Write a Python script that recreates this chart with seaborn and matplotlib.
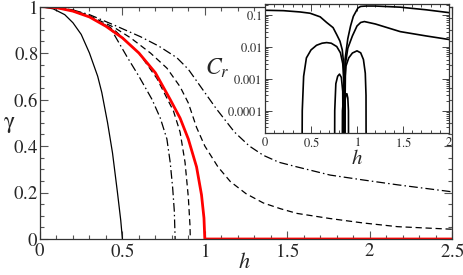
import matplotlib
matplotlib.use("Agg")
import matplotlib.pyplot as plt
import matplotlib.ticker as mticker
import seaborn as sns
import pandas as pd

# ---------------- main panel data (gamma vs h) ----------------
h_solid = [0, 0.08, 0.15, 0.2, 0.25, 0.3, 0.35, 0.375, 0.41, 0.44, 0.47, 0.49, 0.5]
g_solid = [1, 0.99, 0.965, 0.93, 0.88, 0.8, 0.7, 0.63, 0.5, 0.37, 0.2, 0.08, 0]

h_dd_in = [0, 0.1, 0.2, 0.3, 0.425, 0.527, 0.6, 0.68, 0.73, 0.77, 0.79, 0.805, 0.815, 0.82]
g_dd_in = [1, 0.995, 0.98, 0.955, 0.91, 0.785, 0.7, 0.6, 0.52, 0.43, 0.33, 0.22, 0.12, 0]

h_da_in = [0, 0.1, 0.2, 0.3, 0.45, 0.6, 0.71, 0.81, 0.85, 0.88, 0.9, 0.91, 0.912]
g_da_in = [1, 0.995, 0.98, 0.955, 0.9, 0.8, 0.69, 0.55, 0.46, 0.33, 0.18, 0.06, 0]

h_red = [0, 0.1, 0.2, 0.3, 0.4, 0.5, 0.6, 0.7, 0.79, 0.85, 0.9, 0.95, 0.98, 0.995, 1.0, 2.5]
g_red = [1, 0.995, 0.98, 0.955, 0.915, 0.865, 0.8, 0.715, 0.6, 0.52, 0.43, 0.31, 0.19, 0.09, 0, 0]

h_da_out = [0, 0.1, 0.2, 0.3, 0.45, 0.55, 0.67, 0.77, 0.85, 0.9, 0.95, 1.0, 1.08, 1.155,
            1.25, 1.355, 1.46, 1.56, 1.76, 1.96, 2.17, 2.5]
g_da_out = [1, 0.997, 0.985, 0.96, 0.91, 0.865, 0.80, 0.735, 0.655, 0.585, 0.48, 0.40, 0.31, 0.247,
            0.195, 0.155, 0.13, 0.11, 0.088, 0.069, 0.053, 0.042]

h_dd_out = [0, 0.1, 0.2, 0.3, 0.45, 0.61, 0.72, 0.83, 0.9, 0.97, 1.07, 1.18, 1.27, 1.355,
            1.45, 1.56, 1.76, 1.96, 2.17, 2.5]
g_dd_out = [1, 0.997, 0.985, 0.965, 0.92, 0.87, 0.83, 0.78, 0.73, 0.66, 0.56, 0.46, 0.40, 0.36,
            0.33, 0.31, 0.275, 0.254, 0.233, 0.203]

main_xticks = [0, 0.5, 1, 1.5, 2, 2.5]
main_yticks = [0, 0.2, 0.4, 0.6, 0.8, 1]

# ---------------- inset data (C_r vs h, log) ----------------
h_c1a = [0, 0.2, 0.38, 0.49, 0.6, 0.67, 0.74, 0.78, 0.815, 0.84, 0.855, 0.862]
c_c1a = [0.14, 0.136, 0.124, 0.113, 0.087, 0.058, 0.04, 0.024, 0.015, 0.008, 0.003, 1e-6]

h_c1b = [0.862, 0.87, 0.9, 0.93, 0.96, 0.98, 1.01, 1.04, 1.1, 1.2, 1.47, 1.75, 2.0]
c_c1b = [1e-6, 0.004, 0.018, 0.045, 0.09, 0.115, 0.165, 0.185, 0.19, 0.19, 0.175, 0.145, 0.118]

h_c2b = [0.862, 0.875, 0.9, 0.95, 1.0, 1.04, 1.08, 1.2, 1.47, 1.75, 2.0]
c_c2b = [1e-6, 0.003, 0.009, 0.022, 0.045, 0.058, 0.062, 0.052, 0.03, 0.022, 0.017]

h_archA = [0.40, 0.405, 0.42, 0.45, 0.5, 0.56, 0.62, 0.67, 0.72, 0.78, 0.82, 0.845, 0.858, 0.862]
c_archA = [1e-7, 1e-4, 0.0012, 0.0045, 0.008, 0.0112, 0.013, 0.0136, 0.013, 0.0102, 0.0065, 0.003, 0.0008, 1e-7]

h_archB = [0.862, 0.866, 0.88, 0.91, 0.95, 1.0, 1.04, 1.07, 1.09, 1.098, 1.10]
c_archB = [1e-7, 0.0008, 0.0025, 0.0045, 0.0064, 0.0075, 0.0065, 0.004, 0.0015, 0.0003, 1e-7]

h_archC = [0.755, 0.758, 0.77, 0.79, 0.81, 0.83, 0.845, 0.852]
c_archC = [1e-7, 1e-4, 0.0007, 0.0012, 0.0014, 0.0011, 0.0004, 1e-7]

h_archD = [0.866, 0.87, 0.88, 0.89, 0.9, 0.907, 0.91]
c_archD = [1e-7, 0.0002, 0.00033, 0.00034, 0.00025, 0.0001, 1e-7]

h_archE = [0.838, 0.842, 0.848, 0.854, 0.858]
c_archE = [1e-7, 0.0001, 0.00016, 0.0001, 1e-7]

inset_xticks = [0, 0.5, 1, 1.5, 2]
inset_yticks = [1e-4, 1e-3, 1e-2, 1e-1]
inset_ylabels = ["0.0001", "0.001", "0.01", "0.1"]

# ---------------- style ----------------
sns.set_theme(style="ticks")
plt.rcParams["font.family"] = ["STIXGeneral", "Liberation Serif", "DejaVu Serif"]
plt.rcParams["mathtext.fontset"] = "stix"

W, H = 463, 275
fig = plt.figure(figsize=(W / 100, H / 100), dpi=100)

def px_rect(l, t, r, b):
    return [l / W, 1 - b / H, (r - l) / W, (b - t) / H]

ax = fig.add_axes(px_rect(40, 6.5, 452, 239))
axin = fig.add_axes(px_rect(265, 4, 449, 133))

def line(a, x, y, **kw):
    df = pd.DataFrame({"x": x, "y": y})
    sns.lineplot(data=df, x="x", y="y", ax=a, sort=False, estimator=None, **kw)

def m(s):
    return r"$\mathrm{" + s + "}$"

lw = 0.9
dashdot = (0, (7, 2.5, 1.2, 2.5))
dashed = (0, (5, 3))
line(ax, h_solid, g_solid, color="black", lw=lw)
line(ax, h_dd_in, g_dd_in, color="black", lw=lw, linestyle=dashdot)
line(ax, h_da_in, g_da_in, color="black", lw=lw, linestyle=dashed)
line(ax, h_da_out, g_da_out, color="black", lw=lw, linestyle=dashed)
line(ax, h_dd_out, g_dd_out, color="black", lw=lw, linestyle=dashdot)
line(ax, h_red, g_red, color="#ff0000", lw=2.0)

ax.set_xlim(0, 2.5)
ax.set_ylim(0, 1)
ax.set_xticks(main_xticks)
ax.set_xticklabels([m(f"{v:g}") for v in main_xticks])
ax.set_yticks(main_yticks)
ax.set_yticklabels([m(f"{v:g}") for v in main_yticks])
ax.xaxis.set_minor_locator(mticker.MultipleLocator(0.1))
ax.yaxis.set_minor_locator(mticker.MultipleLocator(0.05))
ax.tick_params(which="both", direction="in", top=True, right=True, color="#555555", width=0.8)
ax.tick_params(axis="x", which="major", length=6, labelsize=13.5, pad=3)
ax.tick_params(axis="y", which="major", length=6, labelsize=13.5, pad=1.5)
ax.tick_params(which="minor", length=3)
ax.set_xlabel("")
ax.set_ylabel("")
for s in ax.spines.values():
    s.set_linewidth(0.9)
    s.set_color("#333333")

# inset
ilw = 1.2
for hx, cy in [(h_c1a, c_c1a), (h_c1b, c_c1b), (h_c2b, c_c2b), (h_archA, c_archA),
               (h_archB, c_archB), (h_archC, c_archC), (h_archD, c_archD), (h_archE, c_archE)]:
    line(axin, hx, cy, color="black", lw=ilw)
axin.set_yscale("log")
axin.set_xlim(0, 2)
axin.set_ylim(2.0e-5, 0.22)
axin.set_xticks(inset_xticks)
axin.set_xticklabels([m(f"{v:g}") for v in inset_xticks])
axin.set_yticks(inset_yticks)
axin.set_yticklabels([m(s) for s in inset_ylabels])
axin.xaxis.set_minor_locator(mticker.MultipleLocator(0.1))
axin.yaxis.set_minor_locator(mticker.LogLocator(base=10, subs=range(2, 10), numticks=20))
axin.yaxis.set_minor_formatter(mticker.NullFormatter())
axin.tick_params(which="both", direction="in", top=True, right=True, color="#444444", width=0.7)
axin.tick_params(which="major", length=5, labelsize=9, pad=2)
axin.tick_params(which="minor", length=2.5)
axin.set_xlabel("")
axin.set_ylabel("")
axin.set_facecolor("white")
for s in axin.spines.values():
    s.set_linewidth(0.9)
    s.set_color("#333333")

def ftxt(x, y, s, **kw):
    fig.text(x / W, 1 - y / H, s, ha="center", va="center", **kw)

ftxt(244, 263, r"$h$", fontsize=16)
ftxt(9, 124, r"$\mathrm{\gamma}$", fontsize=17)
ftxt(357, 159, r"$h$", fontsize=15)
ftxt(217, 68, r"$C_r$", fontsize=17)

fig.savefig("out.png", dpi=100)
